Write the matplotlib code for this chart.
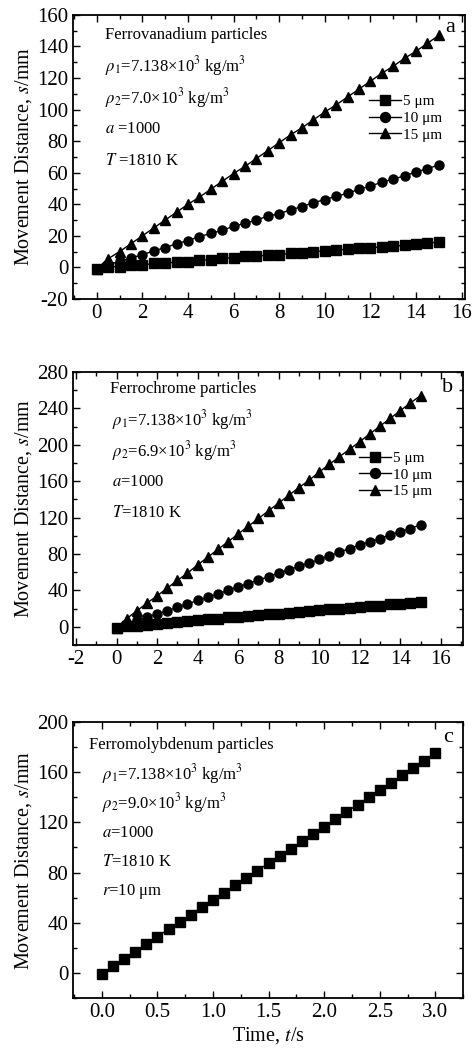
import matplotlib
matplotlib.use("Agg")
import matplotlib.pyplot as plt
from matplotlib.ticker import MultipleLocator

plt.rcParams['font.family'] = ['Liberation Serif', 'DejaVu Serif']
plt.rcParams['mathtext.fontset'] = 'stix'
plt.rcParams['axes.unicode_minus'] = False

# panel a: ferrovanadium
t_a = [i * 0.5 for i in range(31)]
a_5 = [-1, 0.5, 0.5, 1.5, 1.5, 2.5, 2.5, 3.5, 3.5, 4.5, 5, 6, 6, 7, 7, 8, 8, 9, 9, 10,
       10.5, 11, 11.5, 12, 12.5, 13, 13.5, 14, 15, 15.5, 16]
a_10 = [-1, 1.5, 4, 6, 8, 10.5, 12.5, 15, 17, 19.5, 21.5, 23.5, 26, 28, 30, 32.5, 34,
        36.5, 38.5, 41, 43, 45, 47, 49.5, 51.5, 54, 56, 58, 60.5, 62.5, 65]
a_15 = [-1, 5.5, 10, 15, 20, 25, 30, 35, 40, 44.5, 49.5, 54.5, 59.5, 64, 69, 74, 79,
        84, 88.5, 93.5, 98.5, 103, 108, 113, 118, 123, 127.5, 132.5, 137, 142, 147]

# panel b: ferrochrome
t_b = [i * 0.5 for i in range(31)]
b_5 = [-1, 0.5, 1, 2.5, 3, 4.5, 5, 6.5, 7, 8.5, 9, 10.5, 10.5, 12, 12.5, 14, 14, 15.5,
       16, 17.5, 18, 19, 19.5, 21, 21.5, 23, 23, 24.5, 25, 26.5, 27]
b_10 = [-1, 3.5, 7, 10.5, 14, 17.5, 21.5, 25, 29, 32.5, 36, 40, 44, 47.5, 51.5, 55, 59,
        62.5, 66.5, 70, 74, 78, 82, 86, 90, 93.5, 97, 101, 104.5, 108, 112]
b_15 = [-1, 9, 17.5, 26, 34, 42.5, 51, 59, 68, 76.5, 85, 93.5, 102, 110.5, 119, 127.5,
        136, 144.5, 153, 161, 170, 178.5, 187, 195, 203.5, 212, 220.5, 229, 237.5, 246, 254]

# panel c: ferromolybdenum, r = 10 um
t_c = [i * 0.1 for i in range(31)]
c_10 = [-1, 5.5, 11.5, 17, 23, 29, 35, 40.5, 46.5, 52.5, 58, 64, 70, 75.5, 81.5, 87.5,
        93, 99, 105, 111, 116.5, 122.5, 128.5, 134, 140, 146, 151.5, 157.5, 163.5, 169, 175]

sizes = ['5 μm', '10 μm', '15 μm']
markers = ['s', 'o', '^']

TICK_FS = 15
TXT_FS = 12


def style_axes(ax, xmaj, xmin, ymaj, ymin):
    ax.xaxis.set_major_locator(MultipleLocator(xmaj))
    ax.xaxis.set_minor_locator(MultipleLocator(xmin))
    ax.yaxis.set_major_locator(MultipleLocator(ymaj))
    ax.yaxis.set_minor_locator(MultipleLocator(ymin))
    ax.tick_params(which='both', direction='in', top=True, right=True,
                   labelsize=TICK_FS, width=1.0)
    ax.tick_params(which='major', length=5)
    ax.tick_params(which='minor', length=3)
    for s in ax.spines.values():
        s.set_linewidth(1.3)
    ax.set_ylabel('Movement Distance, $s$/mm', fontsize=14.5, labelpad=2)


def add_texts(ax, lines, x0, x1, y0, dy):
    for i, txt in enumerate(lines):
        x = x0 if i == 0 else x1
        ax.text(x, y0 - i * dy, txt, transform=ax.transAxes, fontsize=TXT_FS,
                va='center', ha='left')


fig = plt.figure(figsize=(4.74, 10.52), dpi=100)
ax_a = fig.add_axes([0.154, 0.7158, 0.827, 0.270])
ax_b = fig.add_axes([0.154, 0.3869, 0.823, 0.2595])
ax_c = fig.add_axes([0.154, 0.0513, 0.823, 0.2624])

# --- a ---
for ys, lab, m in zip([a_5, a_10, a_15], sizes, markers):
    ax_a.plot(t_a, ys, color='black', lw=1.0, marker=m, ms=6.5, label=lab)
ax_a.set_xlim(-1.04, 16.15)
ax_a.set_ylim(-20, 160)
style_axes(ax_a, 2, 1, 20, 10)
add_texts(ax_a, ['Ferrovanadium particles',
                 r'$\rho_1$=7.138×10$^3$ kg/m$^3$',
                 r'$\rho_2$=7.0×10$^3$ kg/m$^3$',
                 r'$a$ =1000',
                 r'$T$ =1810 K'], 0.082, 0.082, 0.93, 0.111)
ax_a.text(0.975, 0.955, 'a', transform=ax_a.transAxes, fontsize=16, ha='right', va='center')
ax_a.legend(loc='upper left', bbox_to_anchor=(0.755, 0.72), frameon=False, fontsize=11,
            handlelength=2.1, handletextpad=0.15, labelspacing=0.2, borderpad=0,
            borderaxespad=0, markerscale=1.1)

# --- b ---
for ys, lab, m in zip([b_5, b_10, b_15], sizes, markers):
    ax_b.plot(t_b, ys, color='black', lw=1.0, marker=m, ms=6.5, label=lab)
ax_b.set_xlim(-2.15, 17.1)
ax_b.set_ylim(-20, 280)
style_axes(ax_b, 2, 1, 40, 20)
add_texts(ax_b, ['Ferrochrome particles',
                 r'$\rho_1$=7.138×10$^3$ kg/m$^3$',
                 r'$\rho_2$=6.9×10$^3$ kg/m$^3$',
                 r'$a$=1000',
                 r'$T$=1810 K'], 0.095, 0.1, 0.938, 0.114)
ax_b.text(0.975, 0.945, 'b', transform=ax_b.transAxes, fontsize=16, ha='right', va='center')
ax_b.legend(loc='upper left', bbox_to_anchor=(0.733, 0.71), frameon=False, fontsize=11,
            handlelength=2.1, handletextpad=0.15, labelspacing=0.2, borderpad=0,
            borderaxespad=0, markerscale=1.1)

# --- c ---
ax_c.plot(t_c, c_10, color='black', lw=1.0, marker='s', ms=6.5)
ax_c.set_xlim(-0.26, 3.25)
ax_c.set_ylim(-20, 200)
style_axes(ax_c, 0.5, 0.25, 40, 20)
ax_c.xaxis.set_major_formatter(lambda v, p: f'{v:.1f}')
add_texts(ax_c, ['Ferromolybdenum particles',
                 r'$\rho_1$=7.138×10$^3$ kg/m$^3$',
                 r'$\rho_2$=9.0×10$^3$ kg/m$^3$',
                 r'$a$=1000',
                 r'$T$=1810 K',
                 r'$r$=10 μm'], 0.041, 0.074, 0.917, 0.106)
ax_c.text(0.975, 0.945, 'c', transform=ax_c.transAxes, fontsize=16, ha='right', va='center')
ax_c.set_xlabel('Time, $t$/s', fontsize=14.5, labelpad=2)

fig.savefig('out.png', dpi=100)
